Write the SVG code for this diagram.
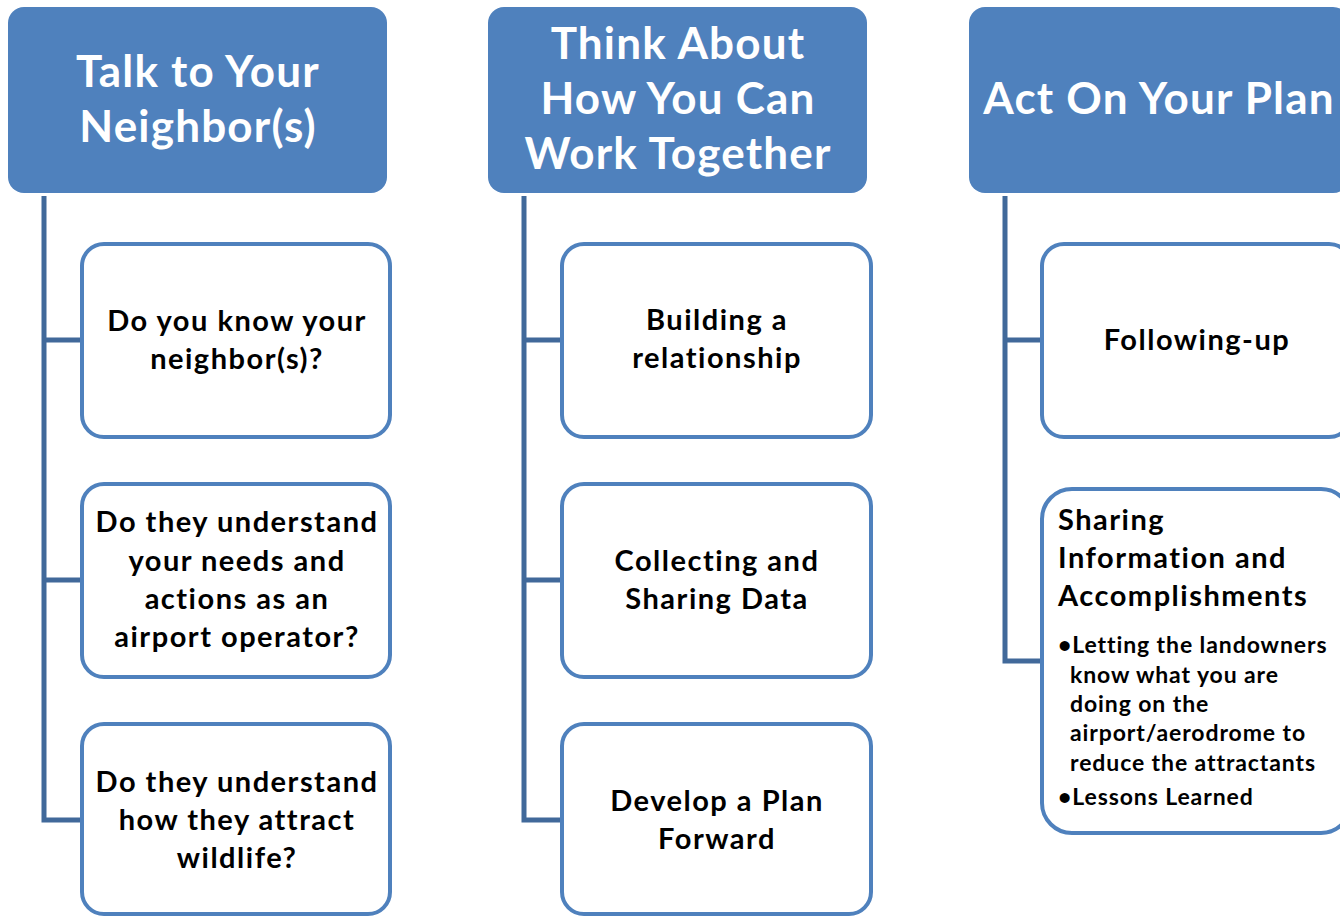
<svg xmlns="http://www.w3.org/2000/svg" width="1340" height="916" viewBox="0 0 1340 916">
<style>
.hdr{fill:#4F81BD;}
.box{fill:#fff;stroke:#4F81BD;stroke-width:4;}
.conn{fill:none;stroke:#41699A;stroke-width:5;}
.ht{font-family:Lato,"Open Sans",sans-serif;font-weight:bold;font-size:44px;letter-spacing:1.2px;fill:#fff;text-anchor:middle;}
.bt{font-family:Lato,"Open Sans",sans-serif;font-weight:bold;font-size:29px;letter-spacing:1.5px;fill:#000;text-anchor:middle;}
.bl{font-family:Lato,"Open Sans",sans-serif;font-weight:bold;font-size:29px;letter-spacing:1.5px;fill:#000;}
.sm{font-family:Lato,"Open Sans",sans-serif;font-weight:bold;font-size:23px;letter-spacing:0.9px;fill:#000;}
</style>
<rect width="1340" height="916" fill="#fff"/>
<g id="connectors">
<path class="conn" d="M44 196 V820 H82 M44 340 H82 M44 580 H82"/>
<path class="conn" d="M524 196 V820 H562 M524 340 H562 M524 580 H562"/>
<path class="conn" d="M1005 196 V661 H1042 M1005 340 H1042"/>
</g>
<g id="h1"><rect class="hdr" x="8" y="7" width="379" height="186" rx="16"/>
<text class="ht" x="198" y="87">Talk to Your</text><text class="ht" x="198" y="142">Neighbor(s)</text></g>
<g id="h2"><rect class="hdr" x="488" y="7" width="379" height="186" rx="16"/>
<text class="ht" x="678" y="59">Think About</text><text class="ht" x="678" y="114">How You Can</text><text class="ht" x="678" y="169">Work Together</text></g>
<g id="h3"><rect class="hdr" x="969" y="7" width="380" height="186" rx="16"/>
<text class="ht" x="1159" y="114">Act On Your Plan</text></g>
<g id="c1a"><rect class="box" x="82" y="244" width="308" height="193" rx="22"/>
<text class="bt" x="237" y="331">Do you know your</text><text class="bt" x="237" y="369">neighbor(s)?</text></g>
<g id="c1b"><rect class="box" x="82" y="484" width="308" height="193" rx="22"/>
<text class="bt" x="237" y="532">Do they understand</text><text class="bt" x="237" y="571">your needs and</text><text class="bt" x="237" y="609">actions as an</text><text class="bt" x="237" y="647">airport operator?</text></g>
<g id="c1c"><rect class="box" x="82" y="724" width="308" height="190" rx="22"/>
<text class="bt" x="237" y="792">Do they understand</text><text class="bt" x="237" y="830">how they attract</text><text class="bt" x="237" y="868">wildlife?</text></g>
<g id="c2a"><rect class="box" x="562" y="244" width="309" height="193" rx="22"/>
<text class="bt" x="717" y="330">Building a</text><text class="bt" x="717" y="368">relationship</text></g>
<g id="c2b"><rect class="box" x="562" y="484" width="309" height="193" rx="22"/>
<text class="bt" x="717" y="571">Collecting and</text><text class="bt" x="717" y="609">Sharing Data</text></g>
<g id="c2c"><rect class="box" x="562" y="724" width="309" height="190" rx="22"/>
<text class="bt" x="717" y="811">Develop a Plan</text><text class="bt" x="717" y="849">Forward</text></g>
<g id="c3a"><rect class="box" x="1042" y="244" width="309" height="193" rx="22"/>
<text class="bt" x="1197" y="350">Following-up</text></g>
<g id="c3b"><rect class="box" x="1042" y="489" width="309" height="344" rx="30"/>
<text class="bl" x="1058" y="530">Sharing</text><text class="bl" x="1058" y="568">Information and</text><text class="bl" x="1058" y="606">Accomplishments</text>
<text class="sm" x="1058" y="653">•Letting the landowners</text>
<text class="sm" x="1070" y="683">know what you are</text>
<text class="sm" x="1070" y="712">doing on the</text>
<text class="sm" x="1070" y="741">airport/aerodrome to</text>
<text class="sm" x="1070" y="771">reduce the attractants</text>
<text class="sm" x="1058" y="805">•Lessons Learned</text></g>
</svg>
